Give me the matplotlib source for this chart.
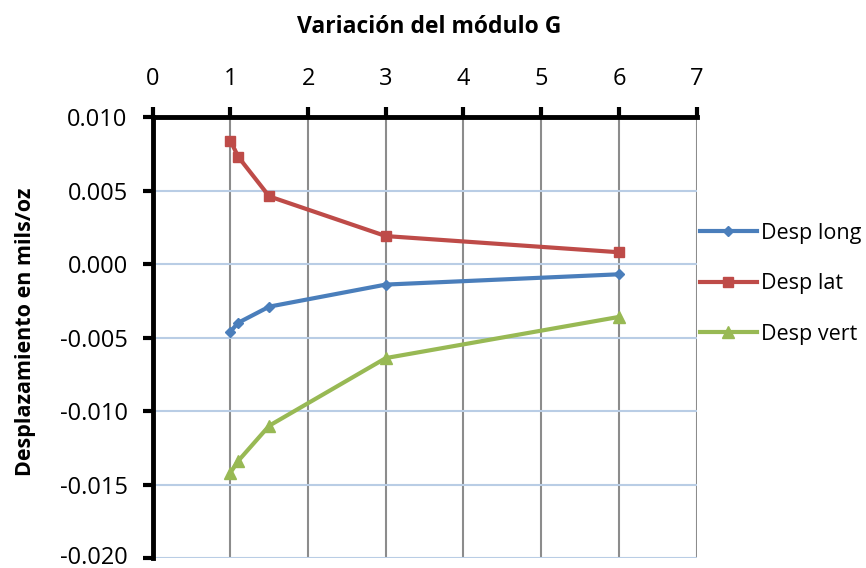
import matplotlib.pyplot as plt
from matplotlib.lines import Line2D
from matplotlib.transforms import ScaledTranslation

plt.rcParams['font.family'] = ['Open Sans', 'DejaVu Sans']

# data
modulo_g = [1, 1.1, 1.5, 3, 6]
desp_long = [-0.0046, -0.0040, -0.0029, -0.0014, -0.0007]
desp_lat = [0.0084, 0.0073, 0.0046, 0.0019, 0.0008]
desp_vert = [-0.0142, -0.0134, -0.0110, -0.0064, -0.0036]
series_names = ['Desp long', 'Desp lat', 'Desp vert']
x_ticks = [0, 1, 2, 3, 4, 5, 6, 7]
y_ticks = [-0.020, -0.015, -0.010, -0.005, 0.000, 0.005, 0.010]

colors = ['#4a7ebb', '#be4b48', '#98b954']
markers = ['D', 's', '^']
msizes = [5, 7, 9]

fig = plt.figure(figsize=(8.66, 5.68), dpi=100)
ax = fig.add_axes([0.1763, 0.0176, 0.6281, 0.7764])

ax.set_xlim(0, 7)
ax.set_ylim(-0.020, 0.010)

# grid
for xv in x_ticks[1:]:
    ax.axvline(xv, color='#8c8c8c', lw=1.5, zorder=1)
for yv in y_ticks:
    ax.axhline(yv, color='#b9cde5', lw=1.5, zorder=1)

handles = []
for ys, name, c, m, ms in zip([desp_long, desp_lat, desp_vert], series_names, colors, markers, msizes):
    ax.plot(modulo_g, ys, color=c, lw=3, marker=m, markersize=ms,
            markeredgecolor=c, markerfacecolor=c, zorder=3, label=name)
    handles.append(Line2D([], [], color=c, lw=3, marker=m, markersize=ms, label=name))

ax.xaxis.tick_top()
ax.set_xticks(x_ticks)
ax.set_yticks(y_ticks)
ax.set_yticklabels([f'{v:.3f}' for v in y_ticks])
ax.tick_params(axis='both', labelsize=17, width=3, length=7, direction='out', color='black')
ax.tick_params(axis='x', pad=12)
ax.tick_params(axis='y', pad=11)

# keep the lowest label inside the canvas
low = ax.get_yticklabels()[0]
low.set_transform(low.get_transform() + ScaledTranslation(0, 2 / 72, fig.dpi_scale_trans))

for s in ['right', 'bottom']:
    ax.spines[s].set_visible(False)
for s in ['top', 'left']:
    ax.spines[s].set_linewidth(3.5)
    ax.spines[s].set_color('black')
    ax.spines[s].set_zorder(4)

fig.text(0.4954, 0.9525, 'Variación del módulo G', fontsize=16.5, fontweight='bold',
         ha='center', va='center')
fig.text(0.0289, 0.4155, 'Desplazamiento en mils/oz', fontsize=15.5, fontweight='bold',
         rotation=90, ha='center', va='center')

fig.legend(handles=handles, loc='center left', bbox_to_anchor=(0.808, 0.5),
           frameon=False, fontsize=15.5, handlelength=2.65, handletextpad=0.2,
           labelspacing=1.37, borderaxespad=0, borderpad=0)

fig.savefig('out.png', dpi=100, facecolor='white')
